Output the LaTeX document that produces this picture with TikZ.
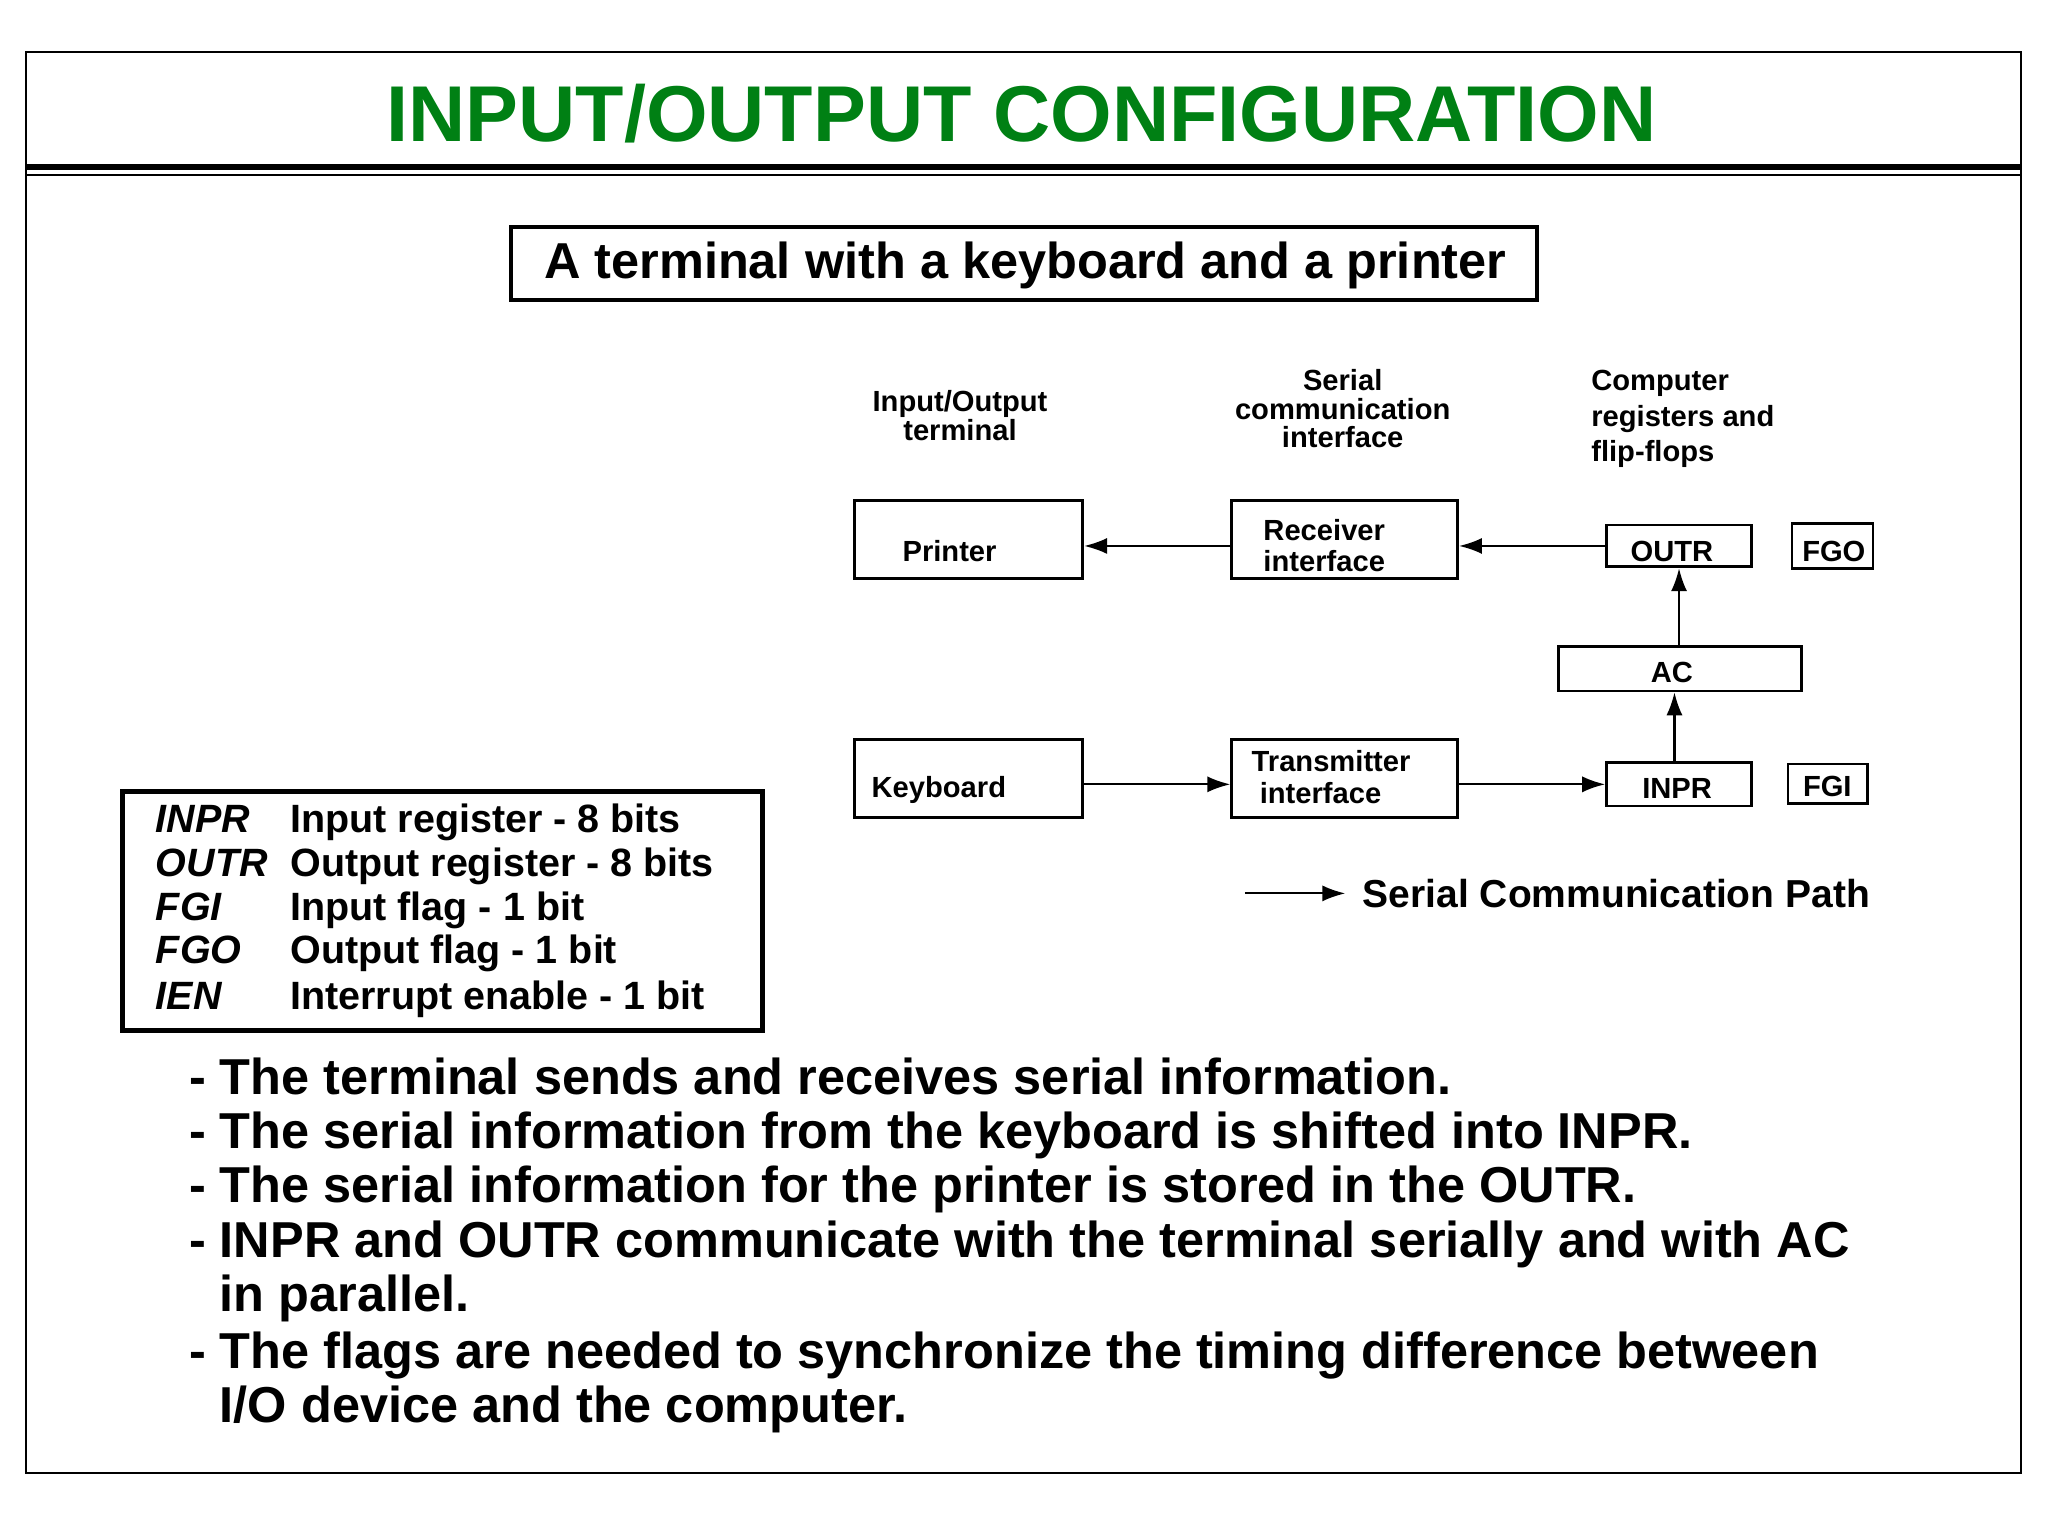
\documentclass[tikz,border=0pt]{standalone}
\usepackage{fontspec}
\setmainfont{Liberation Sans}
\usetikzlibrary{arrows.meta}
\definecolor{titlegreen}{RGB}{0,128,20}
\begin{document}
\begin{tikzpicture}[x=0.02cm,y=-0.02cm,
  box/.style={draw,line width=1.2pt},
  lbl/.style={font=\fontsize{12.7}{13.6}\selectfont\bfseries,align=left,inner sep=0},
  hdr/.style={font=\fontsize{12.7}{12.5}\selectfont\bfseries,inner sep=0},
  arr/.style={line width=0.9pt,-{Latex[length=10pt,width=7pt]}},
  leg/.style={font=\fontsize{17.2}{20}\selectfont\bfseries,anchor=base west,inner sep=0},
  bul/.style={font=\fontsize{22}{24}\selectfont\bfseries,anchor=base west,inner sep=0}]
\useasboundingbox (0,0) rectangle (1568,1176);
\draw[line width=0.8pt] (20,40) rectangle (1547,1128);
\draw[line width=2.5pt] (20,128) -- (1547,128);
\draw[line width=1pt] (20,134) -- (1547,134);
\node[font=\fontsize{34.5}{38}\selectfont\bfseries,text=titlegreen] (title) at (782,87) {INPUT/OUTPUT CONFIGURATION};
\draw[line width=1.8pt] (391,174) rectangle (1177,230);
\node[font=\fontsize{22}{25}\selectfont\bfseries] (sub) at (785,203) {A terminal with a keyboard and a printer};
\node[hdr,align=center] (h1) at (735,318) {Input/Output\\terminal};
\node[hdr,align=center] (h2) at (1028,313) {Serial\\communication\\interface};
\node[hdr,align=left,anchor=west,font=\fontsize{12.7}{15.5}\selectfont\bfseries] (h3) at (1218,321) {Computer\\registers and\\flip-flops};
% boxes
\node[box,minimum width=175*0.02cm,minimum height=60*0.02cm] (prn) at (741.5,413) {};
\node[lbl] at (727,422) {Printer};
\node[box,minimum width=173*0.02cm,minimum height=60*0.02cm] (rcv) at (1029.5,413) {};
\node[lbl,anchor=west] at (967,418) {Receiver\\interface};
\node[box,minimum width=111*0.02cm,minimum height=32*0.02cm] (outr) at (1285.5,418) {};
\node[lbl] at (1280,422) {OUTR};
\node[box,minimum width=62*0.02cm,minimum height=34*0.02cm] (fgo) at (1403,418) {};
\node[lbl] at (1404,422) {FGO};
\node[box,minimum width=186*0.02cm,minimum height=34*0.02cm] (ac) at (1286,512) {};
\node[lbl] at (1280,515) {AC};
\node[box,minimum width=175*0.02cm,minimum height=60*0.02cm] (kbd) at (741.5,596) {};
\node[lbl,anchor=west] at (667,605) {Keyboard};
\node[box,minimum width=173*0.02cm,minimum height=60*0.02cm] (trn) at (1029.5,596) {};
\node[lbl,anchor=west] at (958,595) {Transmitter\\\ interface};
\node[box,minimum width=111*0.02cm,minimum height=33*0.02cm] (inpr) at (1285.5,600.5) {};
\node[lbl] at (1284,604) {INPR};
\node[box,minimum width=61*0.02cm,minimum height=30*0.02cm] (fgi) at (1399.5,600) {};
\node[lbl] at (1399,602) {FGI};
% arrows
\draw[arr] (outr.west) -- (outr.west -| rcv.east);
\draw[arr] (rcv.west |- outr.west) -- (prn.east |- outr.west);
\draw[arr] (ac.north -| outr) -- (outr.south);
\draw[arr] (inpr.north -| 1282,0) -- (ac.south -| 1282,0);
\draw[arr] (kbd.east |- inpr.west) -- (trn.west |- inpr.west);
\draw[arr] (trn.east |- inpr.west) -- (inpr.west);
\coordinate (la) at (953,684); \coordinate (lb) at (1030,684);
\draw[arr] (la) -- (lb);
\node[font=\fontsize{17}{20}\selectfont\bfseries,anchor=west,inner sep=0] (legt) at (1043,684) {Serial Communication Path};
% legend box
\draw[line width=2pt] (94,606) rectangle (584,789);
\foreach \y/\a/\b in {637/INPR/Input register - 8 bits,671/OUTR/Output register - 8 bits,705/FGI/Input flag - 1 bit,738/FGO/Output flag - 1 bit,773/IEN/Interrupt enable - 1 bit}{
  \node[leg,font=\fontsize{17.2}{20}\selectfont\bfseries\itshape] at (119,\y) {\a};
  \node[leg] at (222,\y) {\b};
}
% bullets
\foreach \y/\t in {838/The terminal sends and receives serial information.,
  879/The serial information from the keyboard is shifted into INPR.,
  921/The serial information for the printer is stored in the OUTR.,
  963/INPR and OUTR communicate with the terminal serially and with AC,
  1048/The flags are needed to synchronize the timing difference between}{
  \node[bul] at (145,\y) {-};
  \node[bul] at (168,\y) {\t};
}
\node[bul] at (168,1004) {in parallel.};
\node[bul] at (168,1089) {I/O device and the computer.};
\end{tikzpicture}
\end{document}
